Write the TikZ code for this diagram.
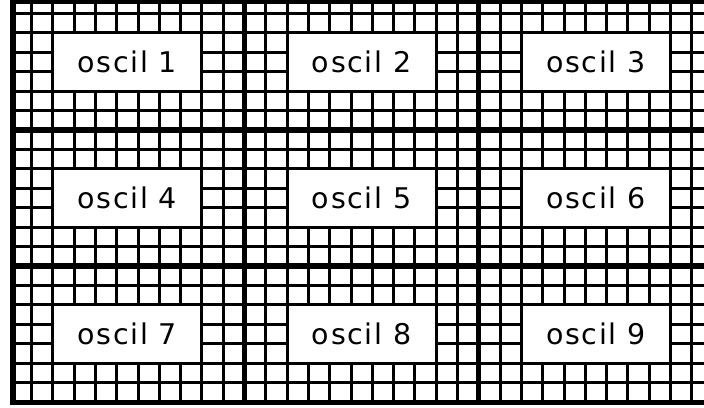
\documentclass[tikz,border=0pt]{standalone}
\usepackage{fontspec}
\newfontfamily\labelfont[LetterSpace=6]{DejaVu Sans}
\begin{document}
\begin{tikzpicture}[x=1pt,y=-1pt,
  thingrid/.style={line width=3pt},
  thickgrid/.style={line width=5.2pt},
  oscbox/.style={draw, line width=3pt, fill=white, minimum width=149.1pt,
    minimum height=58.3pt, inner sep=0pt,
    font=\labelfont\fontsize{28.5pt}{30pt}\selectfont}]
\useasboundingbox[fill=white] (0,0) rectangle (704,407);
% thin grid lines
\foreach \j in {0,1,...,31}
  \draw[thingrid] ({31.5+21.3*\j},1.5) -- ({31.5+21.3*\j},402.1);
\foreach \i in {0,1,...,19}
  \draw[thingrid] (13,{13.3+19.44*\i}) -- (704,{13.3+19.44*\i});
% thick block dividers
\foreach \j in {10,21}
  \draw[thickgrid] ({31.5+21.3*\j},1.5) -- ({31.5+21.3*\j},402.1);
\foreach \i in {6,13}
  \draw[thickgrid] (13,{13.3+19.44*\i}) -- (704,{13.3+19.44*\i});
% outer frame
\draw[thickgrid, line join=miter] (706,1.3) -- (13,1.3) -- (13,402.1) -- (706,402.1);
% label boxes
\foreach \r in {0,1,2}
  \foreach \c in {0,1,2} {
    \pgfmathtruncatemacro{\n}{3*\r+\c+1}
    \node[oscbox] (o\n) at ({127.35+234.3*\c},{61.9+136.08*\r}) {oscil \n};
  }
\end{tikzpicture}
\end{document}
